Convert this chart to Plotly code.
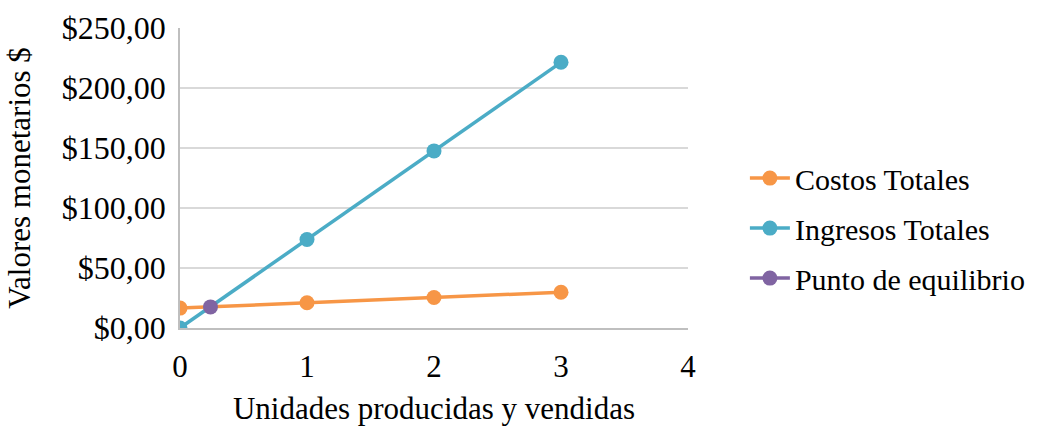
import plotly.graph_objects as go

x_units = [0, 1, 2, 3]
costos = [16.6, 21.0, 25.4, 29.8]
ingresos = [0, 73.8, 147.6, 221.4]
eq_x = [0.24]
eq_y = [17.6]
y_ticks = [0, 50, 100, 150, 200, 250]
y_labels = ["$0,00", "$50,00", "$100,00", "$150,00", "$200,00", "$250,00"]
series_names = ["Costos Totales", "Ingresos Totales", "Punto de equilibrio"]

font = "Liberation Serif, Times New Roman, serif"
black = "#000000"


def legend_name(text):
    return "<span style='font-family:Liberation Serif, Times New Roman, serif'>" + text + "</span>"


fig = go.Figure()
fig.add_trace(go.Scatter(x=x_units, y=costos, mode="lines+markers", name=legend_name(series_names[0]),
                         legendgroup="a",
                         line=dict(color="#F79646", width=3.5), marker=dict(size=15, color="#F79646")))
fig.add_trace(go.Scatter(x=x_units, y=ingresos, mode="lines+markers", name=legend_name(series_names[1]),
                         legendgroup="b",
                         line=dict(color="#4BACC6", width=3.5), marker=dict(size=15, color="#4BACC6")))
fig.add_trace(go.Scatter(x=eq_x, y=eq_y, mode="lines+markers", name=legend_name(series_names[2]),
                         legendgroup="c",
                         line=dict(color="#8064A2", width=3.5), marker=dict(size=15, color="#8064A2")))

fig.update_layout(
    width=1044, height=426,
    margin=dict(l=180, r=356, t=28, b=98),
    paper_bgcolor="white", plot_bgcolor="white",
    font=dict(family=font, size=30, color=black),
    legend=dict(x=1.112, y=0.333, xanchor="left", yanchor="middle",
                font=dict(family=font, size=30, color=black),
                itemwidth=40, tracegroupgap=8),
    xaxis=dict(range=[0, 4], tickvals=[0, 1, 2, 3, 4], showgrid=False, zeroline=False,
               showline=True, linecolor="#BFBFBF", linewidth=1.5, automargin=False,
               title=dict(text="Unidades producidas y vendidas", standoff=18,
                          font=dict(family=font, size=31, color=black)),
               tickfont=dict(family=font, size=31, color=black), ticklabelstandoff=10),
    yaxis=dict(range=[0, 250], tickvals=y_ticks, ticktext=y_labels, showgrid=True,
               gridcolor="#D9D9D9", gridwidth=1.5, zeroline=False, automargin=False,
               showline=True, linecolor="#BFBFBF", linewidth=1.5,
               title=dict(text="Valores monetarios $", standoff=22,
                          font=dict(family=font, size=31, color=black)),
               tickfont=dict(family=font, size=32, color=black), ticks="", ticklen=0,
               ticklabelstandoff=6),
)
fig.write_html("out.html", config={"displayModeBar": False},
               post_script="document.body.style.margin='0';")
